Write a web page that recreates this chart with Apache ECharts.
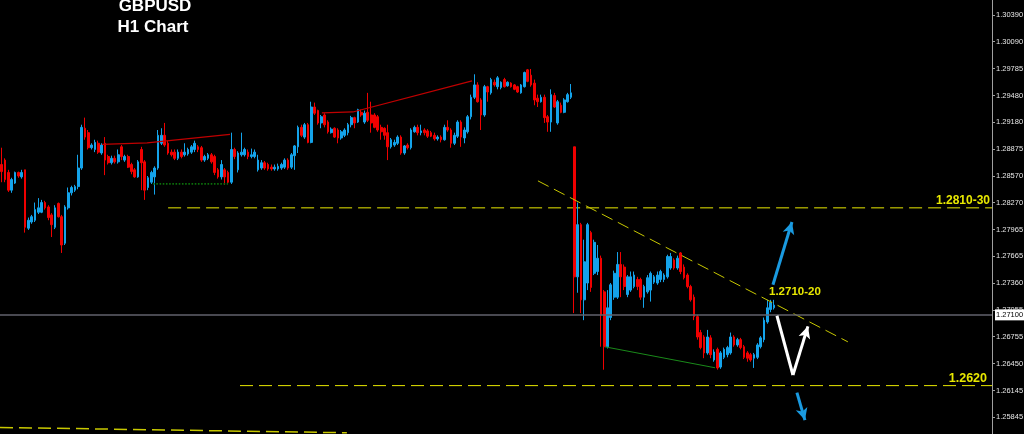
<!DOCTYPE html>
<html><head><meta charset="utf-8">
<script src="https://cdn.jsdelivr.net/npm/echarts@6/dist/echarts.min.js"></script>
<style>html,body{margin:0;padding:0;background:#000;overflow:hidden}#chart{width:1024px;height:434px}</style>
</head><body><div id="chart"></div>
<script>
const symbolName = 'GBPUSD';
const timeframeLabel = 'H1 Chart';
const slotCount = 298;              // hourly slots on the x axis (incl. empty space on the right)
const priceMin = 1.25653, priceMax = 1.3056;
const yTicks = [1.30390,1.30090,1.29785,1.29480,1.29180,1.28875,1.28570,1.28270,1.27965,1.27665,1.27360,1.27055,1.26755,1.26450,1.26145,1.25845];
const lastPrice = 1.2710;
const resistanceLevel = 1.2821, supportLevel = 1.2620;
const resistanceText = '1.2810-30', pivotText = '1.2710-20', supportText = '1.2620';

// [open, close, low, high]
const week1 = [
[1.2870,1.2862,1.2850,1.2889],[1.2875,1.2853,1.2850,1.2877],[1.2861,1.2841,1.2839,1.2864],[1.2841,1.2853,1.2838,1.2855],
[1.2849,1.2861,1.2848,1.2862],[1.2861,1.2857,1.2855,1.2862],[1.2856,1.2861,1.2854,1.2864],[1.2864,1.2799,1.2793,1.2864],
[1.2798,1.2807,1.2796,1.2810],[1.2805,1.2811,1.2803,1.2813],[1.2807,1.2819,1.2805,1.2827],[1.2816,1.2821,1.2814,1.2832],
[1.2816,1.2827,1.2815,1.2830],[1.2827,1.2821,1.2819,1.2829],[1.2822,1.2810,1.2807,1.2824],[1.2813,1.2802,1.2788,1.2815],
[1.2799,1.2821,1.2797,1.2824],[1.2826,1.2811,1.2810,1.2827],[1.2811,1.2779,1.2770,1.2813],[1.2781,1.2822,1.2779,1.2824],
[1.2821,1.2838,1.2819,1.2844],[1.2838,1.2844,1.2835,1.2846],[1.2841,1.2845,1.2839,1.2847],[1.2845,1.2866,1.2842,1.2881],
[1.2866,1.2912,1.2864,1.2915],[1.2911,1.2901,1.2898,1.2923],[1.2906,1.2889,1.2887,1.2909],[1.2889,1.2892,1.2887,1.2894],
[1.2887,1.2895,1.2884,1.2898],[1.2894,1.2884,1.2882,1.2897],[1.2883,1.2892,1.2881,1.2894],[1.2894,1.2875,1.2858,1.2901],
[1.2879,1.2872,1.2870,1.2881],[1.2872,1.2877,1.2870,1.2880],[1.2877,1.2873,1.2871,1.2880],[1.2873,1.2881,1.2871,1.2887],
[1.2890,1.2879,1.2875,1.2892],[1.2875,1.2879,1.2873,1.2881],[1.2879,1.2867,1.2866,1.2881],[1.2870,1.2862,1.2859,1.2872],
[1.2864,1.2856,1.2855,1.2866],[1.2856,1.2873,1.2855,1.2875],[1.2887,1.2872,1.2841,1.2890],[1.2873,1.2841,1.2830,1.2875],
[1.2844,1.2855,1.2841,1.2857],[1.2850,1.2861,1.2848,1.2863],[1.2856,1.2866,1.2836,1.2868],[1.2866,1.2903,1.2864,1.2909],
[1.2894,1.2903,1.2892,1.2911],[1.2903,1.2892,1.2890,1.2917],[1.2894,1.2883,1.2881,1.2897],[1.2884,1.2881,1.2879,1.2887],
[1.2884,1.2877,1.2875,1.2887],[1.2877,1.2884,1.2875,1.2887],[1.2884,1.2879,1.2877,1.2887],[1.2881,1.2884,1.2879,1.2894],
[1.2882,1.2887,1.2880,1.2889],[1.2884,1.2890,1.2882,1.2892],[1.2887,1.2894,1.2884,1.2897],[1.2890,1.2887,1.2884,1.2892],
[1.2889,1.2875,1.2873,1.2891],[1.2875,1.2879,1.2873,1.2881],[1.2877,1.2881,1.2875,1.2883],[1.2881,1.2873,1.2871,1.2883],
[1.2879,1.2861,1.2858,1.2881],[1.2864,1.2856,1.2854,1.2866],[1.2856,1.2870,1.2853,1.2875],[1.2864,1.2856,1.2847,1.2866],
[1.2861,1.2850,1.2848,1.2863],[1.2850,1.2887,1.2848,1.2906],[1.2887,1.2879,1.2876,1.2889],[1.2864,1.2883,1.2861,1.2885],
[1.2881,1.2884,1.2879,1.2906],[1.2881,1.2887,1.2879,1.2889],[1.2884,1.2879,1.2876,1.2887],
[1.2879,1.2881,1.2877,1.2888],[1.2879,1.2884,1.2877,1.2887],[1.2864,1.2875,1.2862,1.2881],[1.2866,1.2872,1.2864,1.2875],
[1.2872,1.2866,1.2864,1.2874],[1.2870,1.2865,1.2863,1.2872],[1.2867,1.2865,1.2863,1.2870],[1.2865,1.2867,1.2863,1.2870],
[1.2865,1.2868,1.2863,1.2871],[1.2866,1.2870,1.2864,1.2872],[1.2867,1.2875,1.2865,1.2877],[1.2875,1.2866,1.2864,1.2877],
[1.2867,1.2881,1.2865,1.2883],[1.2880,1.2891,1.2864,1.2892],[1.2890,1.2912,1.2883,1.2914],[1.2912,1.2903,1.2901,1.2915],
[1.2901,1.2915,1.2899,1.2917],[1.2915,1.2895,1.2894,1.2917],[1.2895,1.2935,1.2894,1.2941],[1.2935,1.2928,1.2926,1.2940],
[1.2931,1.2917,1.2915,1.2932],[1.2917,1.2924,1.2911,1.2926],[1.2926,1.2915,1.2912,1.2928],[1.2918,1.2907,1.2905,1.2920],
[1.2906,1.2910,1.2905,1.2912],[1.2911,1.2901,1.2900,1.2912],[1.2909,1.2900,1.2894,1.2911],[1.2900,1.2907,1.2898,1.2909],
[1.2903,1.2909,1.2901,1.2911],[1.2906,1.2915,1.2903,1.2917],[1.2915,1.2923,1.2912,1.2925],[1.2923,1.2917,1.2911,1.2924],
[1.2918,1.2932,1.2917,1.2933],[1.2929,1.2926,1.2924,1.2932],[1.2918,1.2928,1.2916,1.2931],[1.2929,1.2920,1.2918,1.2951],
[1.2926,1.2917,1.2906,1.2941],[1.2926,1.2912,1.2911,1.2928],[1.2924,1.2909,1.2907,1.2926],
[1.2912,1.2907,1.2898,1.2915],[1.2911,1.2903,1.2898,1.2912],[1.2906,1.2890,1.2875,1.2915],[1.2890,1.2898,1.2888,1.2900],
[1.2892,1.2895,1.2890,1.2898],[1.2894,1.2901,1.2892,1.2903],[1.2901,1.2883,1.2881,1.2903],[1.2883,1.2891,1.2881,1.2892],
[1.2892,1.2889,1.2887,1.2894],[1.2889,1.2909,1.2887,1.2911],[1.2907,1.2912,1.2906,1.2914],[1.2912,1.2906,1.2903,1.2915],
[1.2906,1.2908,1.2903,1.2915],[1.2909,1.2906,1.2903,1.2911],[1.2908,1.2902,1.2900,1.2910],[1.2906,1.2902,1.2901,1.2908],
[1.2903,1.2899,1.2897,1.2906],[1.2899,1.2901,1.2897,1.2903],[1.2901,1.2898,1.2895,1.2903],[1.2898,1.2912,1.2897,1.2915],
[1.2912,1.2909,1.2907,1.2920],[1.2909,1.2894,1.2889,1.2911],[1.2894,1.2903,1.2892,1.2906],[1.2902,1.2918,1.2900,1.2920],
[1.2918,1.2901,1.2890,1.2920],[1.2900,1.2909,1.2894,1.2912],[1.2907,1.2924,1.2905,1.2926],[1.2924,1.2946,1.2921,1.2949],
[1.2946,1.2960,1.2944,1.2972],[1.2960,1.2941,1.2940,1.2963],[1.2943,1.2926,1.2909,1.2945],[1.2926,1.2958,1.2924,1.2960],
[1.2958,1.2952,1.2941,1.2959],[1.2951,1.2966,1.2949,1.2968],[1.2963,1.2960,1.2958,1.2966],[1.2958,1.2968,1.2955,1.2970],
[1.2957,1.2963,1.2955,1.2964],[1.2966,1.2958,1.2957,1.2968],[1.2959,1.2963,1.2958,1.2964],[1.2962,1.2958,1.2957,1.2963],
[1.2960,1.2955,1.2954,1.2961],[1.2958,1.2952,1.2951,1.2959],[1.2951,1.2960,1.2950,1.2961],[1.2958,1.2974,1.2957,1.2975],
[1.2977,1.2964,1.2963,1.2978],[1.2971,1.2960,1.2958,1.2978],[1.2962,1.2943,1.2937,1.2966],[1.2945,1.2941,1.2935,1.2949],
[1.2941,1.2946,1.2940,1.2949],[1.2946,1.2923,1.2917,1.2949],[1.2924,1.2918,1.2907,1.2926],[1.2918,1.2949,1.2907,1.2955],
[1.2948,1.2935,1.2934,1.2951],[1.2917,1.2941,1.2915,1.2943],[1.2937,1.2929,1.2928,1.2940],[1.2929,1.2943,1.2928,1.2945],
[1.2941,1.2949,1.2940,1.2951],[1.2946,1.2951,1.2944,1.2961]
];
const week2 = [
[1.2890,1.2743,1.2702,1.2890],
[1.2743,1.2802,1.2725,1.2827],[1.2802,1.2717,1.2702,1.2804],[1.2717,1.2760,1.2694,1.2785],[1.2736,1.2802,1.2728,1.2804],
[1.2793,1.2731,1.2726,1.2795],[1.2747,1.2782,1.2745,1.2785],[1.2749,1.2764,1.2745,1.2779],[1.2764,1.2700,1.2664,1.2767],
[1.2726,1.2664,1.2638,1.2728],[1.2664,1.2708,1.2662,1.2728],[1.2697,1.2734,1.2694,1.2736],[1.2720,1.2747,1.2717,1.2750],
[1.2720,1.2757,1.2718,1.2771],[1.2757,1.2743,1.2720,1.2771],[1.2754,1.2732,1.2728,1.2757],[1.2723,1.2743,1.2720,1.2745],
[1.2728,1.2743,1.2726,1.2749],[1.2732,1.2745,1.2730,1.2749],[1.2740,1.2732,1.2728,1.2743],[1.2740,1.2720,1.2717,1.2742],
[1.2720,1.2732,1.2708,1.2734],[1.2726,1.2742,1.2724,1.2745],[1.2728,1.2747,1.2715,1.2749],[1.2737,1.2743,1.2735,1.2745],
[1.2736,1.2745,1.2734,1.2749],[1.2740,1.2749,1.2737,1.2751],[1.2740,1.2745,1.2737,1.2747],[1.2743,1.2766,1.2741,1.2768],
[1.2753,1.2766,1.2751,1.2770],[1.2762,1.2753,1.2751,1.2764],[1.2753,1.2764,1.2751,1.2767],[1.2770,1.2749,1.2746,1.2771],
[1.2754,1.2742,1.2740,1.2757],[1.2745,1.2732,1.2730,1.2747],[1.2732,1.2717,1.2715,1.2734],[1.2720,1.2698,1.2694,1.2723],
[1.2698,1.2675,1.2672,1.2700],[1.2680,1.2663,1.2661,1.2683],[1.2675,1.2657,1.2651,1.2677],[1.2657,1.2675,1.2655,1.2683],
[1.2674,1.2655,1.2651,1.2677],[1.2649,1.2658,1.2647,1.2661],[1.2661,1.2640,1.2638,1.2663],[1.2641,1.2657,1.2639,1.2659],
[1.2652,1.2661,1.2650,1.2663],[1.2655,1.2663,1.2652,1.2665],[1.2657,1.2675,1.2655,1.2680],[1.2675,1.2666,1.2664,1.2677],
[1.2666,1.2672,1.2664,1.2674],[1.2672,1.2663,1.2661,1.2674],[1.2664,1.2652,1.2650,1.2666],[1.2657,1.2651,1.2647,1.2659],
[1.2655,1.2649,1.2647,1.2657],[1.2651,1.2655,1.2640,1.2657],[1.2652,1.2666,1.2650,1.2668],[1.2664,1.2674,1.2662,1.2676],
[1.2672,1.2694,1.2669,1.2697],[1.2692,1.2708,1.2690,1.2717],[1.2706,1.2714,1.2703,1.2717],[1.2708,1.2711,1.2706,1.2717]
];

// drawn objects, in [slot index, price]
const redLineA = [[30.1,1.28927],[43.7,1.28944],[68.6,1.29040]];
const redLineB = [[96.2,1.29283],[105.5,1.29294],[141.3,1.29645]];
const greenDotted = [[45.5,1.28481],[68.0,1.28481]];
const greenSupport = [[181.2,1.26639],[214.3,1.26402]];
const fallingTrend = [[161.1,1.28515],[254.2,1.26695]];
const oldTrend = [[-0.5,1.25727],[103.7,1.25667]];
const resistanceSpan = [[50,resistanceLevel],[297.5,resistanceLevel]];
const supportSpan = [[71.6,supportLevel],[297.5,supportLevel]];
const arrowUp = [[231.7,1.2734],[237.4,1.2805]];
const arrowDipA = [[232.9,1.2699],[237.7,1.2632]];
const arrowDipB = [[237.7,1.2632],[242.2,1.2687]];
const arrowDown = [[238.9,1.2612],[241.3,1.2581]];

const categories = [];
for (let i = 0; i < slotCount; i++) categories.push(String(i));
const candles = week1.concat(week2);

const BULL = '#14a3ea', BEAR = '#f00000', YEL = '#e8e800', ARROW_BLUE = '#1a9ae0';
const overlay = (data, color, width, type, z) => ({
  type: 'line', xAxisIndex: 1, yAxisIndex: 0, data, symbol: 'none', silent: true,
  lineStyle: { color, width, type: type || 'solid' }, z: z || 3, animation: false
});
const arrow = (pts, color, head) => [
  { coord: pts[0], symbol: 'none', lineStyle: { color, width: 3, type: 'solid' } },
  { coord: pts[1], symbol: head ? 'arrow' : 'none' }
];

const chart = echarts.init(document.getElementById('chart'), null, { renderer: 'canvas' });
chart.setOption({
  backgroundColor: '#000',
  animation: false,
  grid: { left: 0, right: 32, top: 0, bottom: 0, containLabel: false, outerBoundsMode: 'none' },
  xAxis: [
    { type: 'category', data: categories, boundaryGap: true, show: false },
    { type: 'value', min: -0.5, max: slotCount - 0.5, show: false }
  ],
  yAxis: [{
    type: 'value', position: 'right', min: priceMin, max: priceMax, scale: true,
    axisLine: { show: true, onZero: false, lineStyle: { color: '#a0a0a0', width: 1 } },
    axisTick: { show: true, length: 3, customValues: yTicks, lineStyle: { color: '#a0a0a0' } },
    axisLabel: { customValues: yTicks, margin: 4, color: '#e6e6e6', fontSize: 7.5,
      fontFamily: 'Liberation Sans', formatter: v => v.toFixed(5) },
    splitLine: { show: false }
  }],
  graphic: [
    { type: 'text', x: 155, y: 6, silent: true, style: { text: symbolName, fill: '#fff', font: 'bold 17px "Liberation Sans"', textAlign: 'center', textVerticalAlign: 'middle' } },
    { type: 'text', x: 153, y: 27.5, silent: true, style: { text: timeframeLabel, fill: '#fff', font: 'bold 17px "Liberation Sans"', textAlign: 'center', textVerticalAlign: 'middle' } },
    { type: 'text', x: 990, y: 200.5, silent: true, style: { text: resistanceText, fill: YEL, font: 'bold 12px "Liberation Sans"', textAlign: 'right', textVerticalAlign: 'middle' } },
    { type: 'text', x: 769, y: 292, silent: true, style: { text: pivotText, fill: YEL, font: 'bold 11.5px "Liberation Sans"', textAlign: 'left', textVerticalAlign: 'middle' } },
    { type: 'text', x: 987, y: 378.5, silent: true, style: { text: supportText, fill: YEL, font: 'bold 12.5px "Liberation Sans"', textAlign: 'right', textVerticalAlign: 'middle' } }
  ],
  series: [
    overlay(resistanceSpan, YEL, 1, [13, 6], 1),
    overlay(supportSpan, YEL, 1, [13, 6], 1),
    overlay(oldTrend, '#c9c900', 1.5, [13, 6], 1),
    {
      type: 'line', xAxisIndex: 1, yAxisIndex: 0, data: [], silent: true, z: 1,
      markLine: {
        silent: true, symbol: ['none', 'none'], animation: false,
        lineStyle: { color: '#62626c', width: 1.6, type: 'solid' },
        label: { show: true, position: 'end', distance: 3, formatter: lastPrice.toFixed(5),
          backgroundColor: '#fff', color: '#000', fontSize: 7.5, fontFamily: 'Liberation Sans', padding: [2, 1, 1, 1] },
        data: [{ yAxis: lastPrice }]
      }
    },
    {
      type: 'candlestick', xAxisIndex: 0, yAxisIndex: 0, data: candles, barWidth: 2.2, z: 2,
      itemStyle: { color: BULL, color0: BEAR, borderColor: BULL, borderColor0: BEAR, borderWidth: 1 },
      silent: true
    },
    overlay(redLineA, '#c00000', 1.2),
    overlay(redLineB, '#c00000', 1.2),
    overlay(greenDotted, '#0b6e0b', 1.6, 'dotted'),
    overlay(greenSupport, '#1a8a1a', 1),
    overlay(fallingTrend, '#c8c800', 1, [12, 6], 4),
    {
      type: 'line', xAxisIndex: 1, yAxisIndex: 0, data: [], silent: true, z: 5,
      markLine: {
        silent: true, animation: false, symbolSize: [9, 12], label: { show: false },
        data: [
          arrow(arrowUp, ARROW_BLUE, true),
          arrow(arrowDipA, '#ffffff', false),
          arrow(arrowDipB, '#ffffff', true),
          arrow(arrowDown, ARROW_BLUE, true)
        ]
      }
    }
  ]
});
</script>
</body></html>
